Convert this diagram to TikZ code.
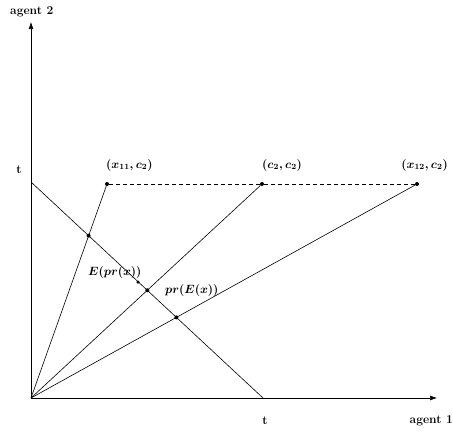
\documentclass[tikz,border=0pt]{standalone}
\usetikzlibrary{arrows.meta}
\begin{document}
\begin{tikzpicture}[x=1pt,y=-1pt,
  lbl/.style={font=\fontsize{12}{14}\selectfont\bfseries\boldmath, inner sep=0pt},
  ln/.style={line width=0.6pt, black},
  ax/.style={line width=0.6pt, black, -{Latex[length=7pt,width=5pt]}},
  dot/.style={circle, fill=black, inner sep=0pt, minimum size=4pt}]
\useasboundingbox (0,0) rectangle (453,432);
\coordinate (O) at (31,398);
\coordinate (Ytip) at (31,22);
\coordinate (Xtip) at (437,398);
\coordinate (T2) at (31,182);
\coordinate (T1) at (263,398);
\node[dot] (P1) at (107,184) {};
\node[dot] (P2) at (262,184) {};
\node[dot] (P3) at (417,184) {};
\node[dot] (I1) at (88.6,235.7) {};
\node[dot] (I2) at (147.3,290.3) {};
\node[dot] (I3) at (176.4,317.4) {};
\node[dot, minimum size=3.5pt] (EP) at (138,282) {};
% axes
\draw[ax] (O) -- (Ytip);
\draw[ax] (O) -- (Xtip);
% lines
\draw[ln] (T2) -- (T1);
\draw[ln] (O) -- (P1);
\draw[ln] (O) -- (P2);
\draw[ln] (O) -- (P3);
\draw[ln, dashed, dash pattern=on 4pt off 3pt] (P1) -- (P2) -- (P3);
% labels
\node[lbl, anchor=west] (a2) at (10,12) {agent 2};
\node[lbl, anchor=east] (a1) at (453,421) {agent 1};
\node[lbl] (ty) at (19,170) {t};
\node[lbl] (tx) at (265,421) {t};
\node[lbl, anchor=west] (l1) at (106,165) {$(x_{11},c_2)$};
\node[lbl, anchor=west] (l2) at (262,165) {$(c_2,c_2)$};
\node[lbl, anchor=east] (l3) at (448,165) {$(x_{12},c_2)$};
\node[lbl, anchor=west] (le) at (88,272) {$E(pr(x))$};
\node[lbl, anchor=west] (lp) at (165,290) {$pr(E(x))$};
\end{tikzpicture}
\end{document}
